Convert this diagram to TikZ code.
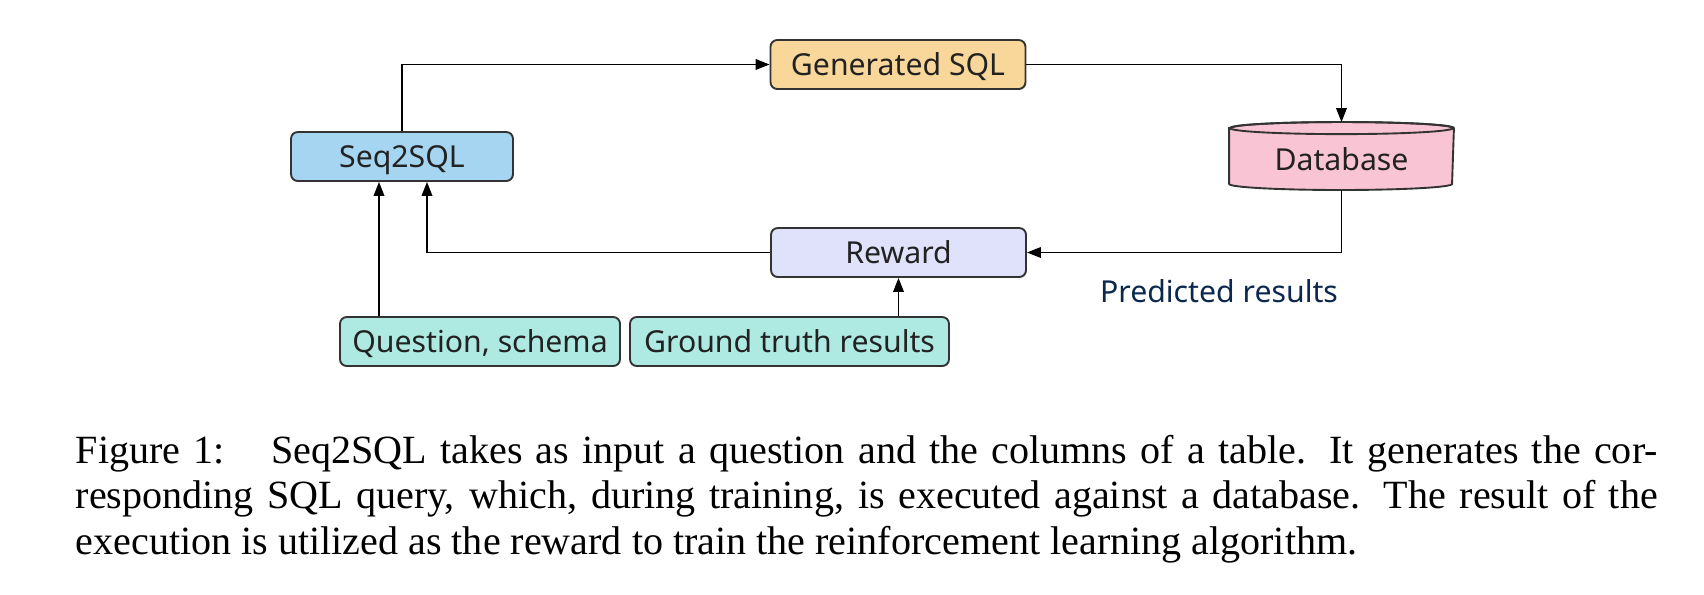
\documentclass[tikz,border=0pt]{standalone}
\usepackage{fontspec}
\setmainfont{Liberation Serif}
\newfontfamily\diagfont{Noto Sans}
\usetikzlibrary{arrows.meta,calc,backgrounds}
\definecolor{seqfill}{RGB}{166,213,242}
\definecolor{genfill}{RGB}{249,215,155}
\definecolor{dbfill}{RGB}{249,196,212}
\definecolor{rewfill}{RGB}{224,225,250}
\definecolor{infill}{RGB}{174,234,226}
\definecolor{boxline}{RGB}{51,51,51}
\definecolor{boxtext}{RGB}{34,34,34}
\definecolor{predtext}{RGB}{12,40,78}
\begin{document}
\begin{tikzpicture}[x=0.2646pt,y=-0.2646pt,
  box/.style={draw=boxline, line width=0.5pt, rounded corners=1.8pt,
    minimum height=12.97pt, inner sep=0pt, text=boxtext,
    font=\diagfont\fontsize{8}{9.6}\selectfont, text height=5.7pt, text depth=0pt},
  arr/.style={draw=black, line width=0.45pt, -{Triangle[length=3.7pt,width=2.8pt]}}]
\useasboundingbox (0,0) rectangle (1704,594);

\node[box, fill=seqfill, minimum width=58.74pt] (seq) at (402,156.5) {Seq2SQL};
\node[box, fill=genfill, minimum width=67.47pt] (gen) at (898,64.5) {Generated SQL};
\node[box, fill=rewfill, minimum width=67.47pt] (rew) at (898.5,252.5) {Reward};
\node[box, fill=infill, minimum width=74.09pt] (q) at (480,341.5) {Question, schema};
\node[box, fill=infill, minimum width=84.4pt] (gt) at (789.5,341.5) {Ground truth results};
\node[box, draw=none, rounded corners=0pt, minimum width=59pt, minimum height=17.46pt,
  text height=7.82pt] (db) at (1341.5,156) {Database};
\begin{scope}[on background layer]
  \fill[white] (0,0) rectangle (1704,594);
  \path[fill=dbfill, draw=boxline, line width=0.5pt]
    ($(db.north west)+(0,6)$) -- ($(db.south west)+(0,-6)$)
    arc[start angle=180, end angle=360, x radius=29.5pt, y radius=1.6pt]
    -- ($(db.north east)+(0,6)$)
    arc[start angle=0, end angle=180, x radius=29.5pt, y radius=1.6pt] -- cycle;
  \draw[boxline, line width=0.5pt] ($(db.north)+(0,6)$) ellipse[x radius=29.5pt, y radius=1.6pt];
\end{scope}

\node[font=\diagfont\fontsize{8}{9.6}\selectfont, text=predtext, anchor=base, inner sep=0pt]
  (pred) at (1219,302.5) {Predicted results};

\coordinate (qin) at ($(seq.south)+(-23,0)$);
\coordinate (rin) at ($(seq.south)+(25,0)$);

\draw[arr] (seq.north) |- (gen.west);
\draw[arr] (gen.east) -| (db.north);
\draw[arr] (db.south) |- (rew.east);
\draw[arr] (rew.west) -| (rin);
\draw[arr] (q.north -| qin) -- (qin);
\draw[arr] (gt.north -| rew.south) -- (rew.south);

\node[anchor=base west, inner sep=0pt] (cap) at (75,463.3) {\parbox[t]{418.6pt}{\fontsize{10.6}{12}\selectfont
\makebox[\linewidth][s]{Figure 1:\hspace{7pt} Seq2SQL takes as input a question and the columns of a table.  It generates the cor-}\par\noindent
\makebox[\linewidth][s]{responding SQL query, which, during training, is executed against a database.  The result of the}\par\noindent
execution is utilized as the reward to train the reinforcement learning algorithm.}};
\end{tikzpicture}
\end{document}
